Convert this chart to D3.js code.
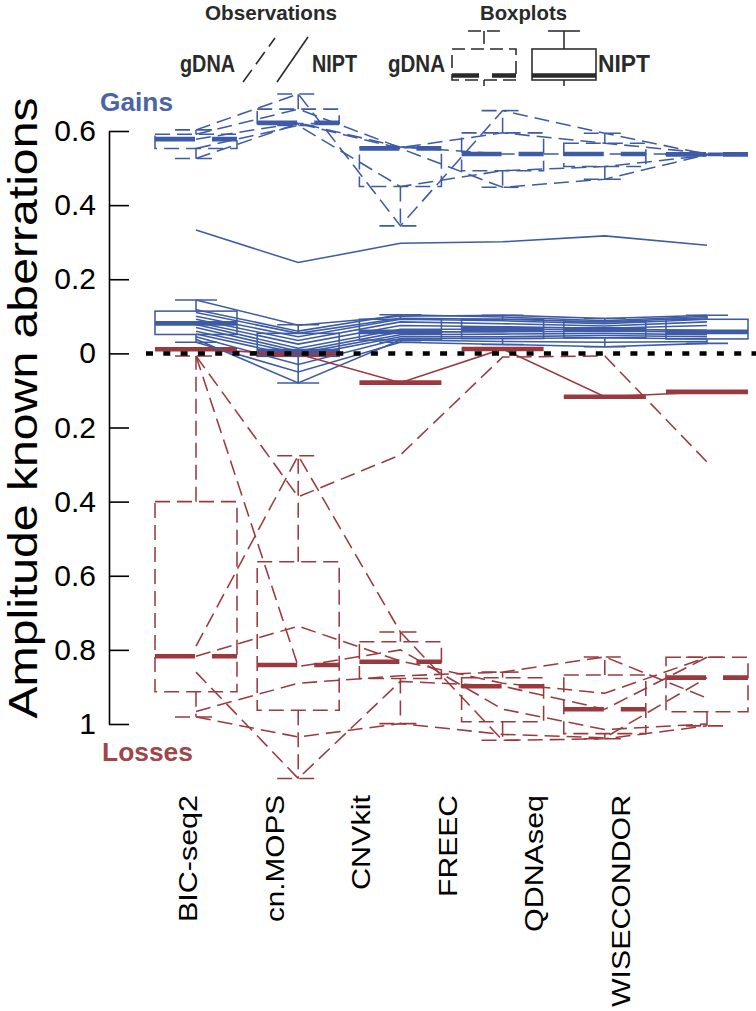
<!DOCTYPE html>
<html><head><meta charset="utf-8">
<script src="https://cdn.jsdelivr.net/npm/d3@7"></script>
<style>
body{margin:0;background:#fff}
svg{display:block}
text{font-family:"Liberation Sans",Arial,Helvetica,sans-serif}
</style>
</head><body>
<svg id="c" width="756" height="1011"></svg>
<script>
// ---------- data ----------
const methods = ["BIC-seq2", "cn.MOPS", "CNVkit", "FREEC", "QDNAseq", "WISECONDOR"];

// y tick values (gains positive, losses negative) and their printed labels
const tickValues = [0.6, 0.4, 0.2, 0, -0.2, -0.4, -0.6, -0.8, -1];
const tickLabels = ["0.6", "0.4", "0.2", "0", "0.2", "0.4", "0.6", "0.8", "1"];

// gDNA gains: one row per sample, one value per method
const gdnaGains = [
  [0.603, 0.700, 0.344, 0.655, 0.594, 0.537],
  [0.526, 0.620, 0.553, 0.448, 0.470, 0.536],
  [0.578, 0.622, 0.557, 0.538, 0.538, 0.538],
  [0.591, 0.659, 0.555, 0.595, 0.567, 0.540],
  [0.553, 0.615, 0.450, 0.493, 0.504, 0.534]
];
// NIPT gains
const niptGains = [
  [0.144, 0.076, 0.100, 0.103, 0.094, 0.103],
  [0.118, 0.060, 0.104, 0.098, 0.088, 0.100],
  [0.110, 0.054, 0.095, 0.092, 0.085, 0.096],
  [0.100, 0.045, 0.092, 0.088, 0.080, 0.092],
  [0.092, 0.035, 0.085, 0.080, 0.074, 0.085],
  [0.084, 0.025, 0.075, 0.072, 0.068, 0.075],
  [0.078, 0.014, 0.065, 0.065, 0.065, 0.062],
  [0.070, 0.006, 0.058, 0.058, 0.060, 0.058],
  [0.060, 0.000, 0.050, 0.052, 0.054, 0.050],
  [0.052, -0.008, 0.045, 0.045, 0.048, 0.045],
  [0.045, -0.030, 0.040, 0.040, 0.042, 0.039],
  [0.038, -0.080, 0.036, 0.032, 0.030, 0.032],
  [0.030, -0.050, 0.030, 0.024, 0.018, 0.027],
  [0.333, 0.245, 0.297, 0.301, 0.317, 0.292]
];
// gDNA losses (amplitudes, drawn downward)
const gdnaLosses = [
  [0.007, 0.387, 0.274, 0.010, 0.007, 0.293],
  [0.007, 0.845, 0.800, 0.960, 1.015, 1.000],
  [0.790, 0.276, 0.752, 1.044, 1.040, 1.005],
  [0.817, 0.736, 0.830, 0.890, 0.917, 0.820],
  [0.860, 1.147, 0.885, 0.898, 0.960, 0.820],
  [0.966, 0.890, 0.870, 0.860, 0.819, 0.930],
  [0.981, 1.035, 0.999, 1.028, 1.037, 0.875]
];
// NIPT losses
const niptLosses = [
  [-0.011, 0.002, 0.079, -0.012, 0.117, 0.104]
];

// boxplot statistics per method: [lower whisker, Q1, median, Q3, upper whisker]
const gdnaGainBox = [
  [0.526, 0.553, 0.578, 0.591, 0.603],
  [0.615, 0.620, 0.622, 0.659, 0.700],
  [0.344, 0.450, 0.553, 0.555, 0.557],
  [0.448, 0.493, 0.538, 0.595, 0.655],
  [0.470, 0.504, 0.538, 0.567, 0.594],
  [0.534, 0.536, 0.537, 0.538, 0.540]
];
const niptGainBox = [
  [0.030, 0.051, 0.081, 0.114, 0.144],
  [-0.080, -0.008, 0.006, 0.054, 0.077],
  [0.030, 0.036, 0.058, 0.092, 0.104],
  [0.024, 0.040, 0.065, 0.092, 0.103],
  [0.018, 0.042, 0.065, 0.085, 0.094],
  [0.027, 0.039, 0.058, 0.092, 0.103]
];
const gdnaLossBox = [
  [0.007, 0.400, 0.817, 0.913, 0.981],
  [0.276, 0.562, 0.841, 0.963, 1.147],
  [0.752, 0.778, 0.832, 0.877, 0.999],
  [0.860, 0.875, 0.898, 0.994, 1.044],
  [0.819, 0.868, 0.960, 1.026, 1.040],
  [0.820, 0.820, 0.875, 0.967, 1.005]
];
const niptLossBox = [
  [-0.011, -0.011, -0.011, -0.011, -0.011],
  [0.002, 0.002, 0.002, 0.002, 0.002],
  [0.079, 0.079, 0.079, 0.079, 0.079],
  [-0.012, -0.012, -0.012, -0.012, -0.012],
  [0.117, 0.117, 0.117, 0.117, 0.117],
  [0.104, 0.104, 0.104, 0.104, 0.104]
];

// ---------- setup ----------
const svg = d3.select("#c");
const BLUE = "#3e5ba6", RED = "#9b3a3e", INK = "#2a2a2a";
const DASH = "15,7", MED_DASH = "40,17";
const BOX_HW = 41, CAP_HW = 21, LW = 1.55, MED_W = 4.6;

const y = d3.scaleLinear().domain([-1, 0.6]).range([724, 131]);
const x = d3.scalePoint().domain(methods).range([196, 707]);
const xl = d3.scalePoint().domain(methods).range([197, 630]);

function stretch(sel, len) {
  sel.attr("textLength", len).attr("lengthAdjust", "spacingAndGlyphs");
}

// ---------- boxes ----------
function drawBoxes(stats, sign, color, dashed) {
  const g = svg.append("g").attr("fill", "none").attr("stroke", color);
  stats.forEach((s, i) => {
    const cx = x(methods[i]);
    const [lo, q1, md, q3, hi] = s.map(v => y(sign * v));
    const b = g.append("g").attr("stroke-width", LW);
    if (dashed) b.attr("stroke-dasharray", DASH);
    b.append("line").attr("x1", cx).attr("x2", cx).attr("y1", q1).attr("y2", lo);
    b.append("line").attr("x1", cx).attr("x2", cx).attr("y1", q3).attr("y2", hi);
    b.append("line").attr("x1", cx - CAP_HW).attr("x2", cx + CAP_HW).attr("y1", lo).attr("y2", lo);
    b.append("line").attr("x1", cx - CAP_HW).attr("x2", cx + CAP_HW).attr("y1", hi).attr("y2", hi);
    b.append("rect").attr("x", cx - BOX_HW).attr("width", 2 * BOX_HW)
      .attr("y", Math.min(q1, q3)).attr("height", Math.abs(q1 - q3));
    const m = g.append("line").attr("x1", cx - BOX_HW).attr("x2", cx + BOX_HW)
      .attr("y1", md).attr("y2", md).attr("stroke-width", MED_W);
    if (dashed) m.attr("stroke-dasharray", MED_DASH);
  });
}

// ---------- observation lines ----------
function drawLines(samples, sign, color, dashed) {
  const line = d3.line().x((d, i) => x(methods[i])).y(d => y(sign * d));
  const g = svg.append("g").attr("fill", "none").attr("stroke", color).attr("stroke-width", LW);
  if (dashed) g.attr("stroke-dasharray", DASH);
  g.selectAll("path").data(samples).join("path").attr("d", line);
}

drawBoxes(gdnaGainBox, 1, BLUE, true);
drawBoxes(niptGainBox, 1, BLUE, false);
drawBoxes(gdnaLossBox, -1, RED, true);
drawBoxes(niptLossBox, -1, RED, false);
drawLines(gdnaGains, 1, BLUE, true);
drawLines(niptGains, 1, BLUE, false);
drawLines(gdnaLosses, -1, RED, true);
drawLines(niptLosses, -1, RED, false);

// zero reference line
svg.append("line").attr("x1", 146).attr("x2", 756).attr("y1", y(0)).attr("y2", y(0))
  .attr("stroke", "#000").attr("stroke-width", 4.5).attr("stroke-dasharray", "7,10.3");

// ---------- y axis ----------
const axis = d3.axisLeft(y).tickValues(tickValues).tickFormat((d, i) => tickLabels[i])
  .tickSizeInner(-20).tickSizeOuter(0).tickPadding(13);
const ax = svg.append("g").attr("transform", "translate(109,0)").call(axis);
ax.selectAll("path,line").attr("stroke", "#000").attr("stroke-width", 1.6);
ax.selectAll("text").attr("font-size", 30).attr("fill", "#000")
  .attr("font-family", "'Liberation Sans',Arial,sans-serif");

svg.append("text").attr("transform", "translate(37,408) rotate(-90)")
  .attr("text-anchor", "middle").attr("font-size", 41).attr("fill", "#000")
  .text("Amplitude known aberrations").call(stretch, 621);

svg.append("text").attr("x", 100).attr("y", 111).attr("font-size", 25).attr("font-weight", "bold")
  .attr("fill", "#4a64a8").text("Gains").call(stretch, 73);
svg.append("text").attr("x", 102).attr("y", 761).attr("font-size", 25).attr("font-weight", "bold")
  .attr("fill", "#a0464b").text("Losses").call(stretch, 91);

// ---------- x labels ----------
const labelLengths = [127, 127, 95, 102, 137, 212];
svg.append("g").selectAll("text").data(methods).join("text")
  .attr("transform", d => `translate(${xl(d)},795) rotate(-90)`)
  .attr("text-anchor", "end").attr("font-size", 25).attr("fill", "#000")
  .text(d => d)
  .each(function(d, i) { d3.select(this).call(stretch, labelLengths[i]); });

// ---------- legend ----------
const lg = svg.append("g").attr("fill", INK);
lg.append("text").attr("x", 205).attr("y", 19.5).attr("font-size", 21).attr("font-weight", "bold")
  .text("Observations").call(stretch, 132);
lg.append("text").attr("x", 180).attr("y", 72).attr("font-size", 23).attr("font-weight", "bold")
  .text("gDNA").call(stretch, 55);
lg.append("text").attr("x", 312).attr("y", 72).attr("font-size", 23).attr("font-weight", "bold")
  .text("NIPT").call(stretch, 45);
lg.append("line").attr("x1", 243).attr("y1", 82).attr("x2", 275).attr("y2", 38)
  .attr("stroke", INK).attr("stroke-width", 1.6).attr("stroke-dasharray", "15,7");
lg.append("line").attr("x1", 277).attr("y1", 82).attr("x2", 308).attr("y2", 37)
  .attr("stroke", INK).attr("stroke-width", 1.6);

lg.append("text").attr("x", 480).attr("y", 19.5).attr("font-size", 21).attr("font-weight", "bold")
  .text("Boxplots").call(stretch, 87);
lg.append("text").attr("x", 388).attr("y", 72).attr("font-size", 23).attr("font-weight", "bold")
  .text("gDNA").call(stretch, 57);
lg.append("text").attr("x", 598).attr("y", 72).attr("font-size", 23).attr("font-weight", "bold")
  .text("NIPT").call(stretch, 52);

function legendBox(cx, dashed) {
  const g = svg.append("g").attr("fill", "none").attr("stroke", INK);
  const b = g.append("g").attr("stroke-width", LW);
  if (dashed) b.attr("stroke-dasharray", "13,6");
  b.append("line").attr("x1", cx).attr("x2", cx).attr("y1", 31).attr("y2", 49);
  b.append("line").attr("x1", cx).attr("x2", cx).attr("y1", 80).attr("y2", 86);
  b.append("line").attr("x1", cx - 16).attr("x2", cx + 16).attr("y1", 31).attr("y2", 31);
  b.append("rect").attr("x", cx - 32).attr("y", 49).attr("width", 64).attr("height", 31);
  const m = g.append("line").attr("x1", cx - 32).attr("x2", cx + 32).attr("y1", 75.5).attr("y2", 75.5)
    .attr("stroke-width", MED_W);
  if (dashed) m.attr("stroke-dasharray", "27,13");
}
legendBox(484, true);
legendBox(564, false);
</script>
</body></html>
